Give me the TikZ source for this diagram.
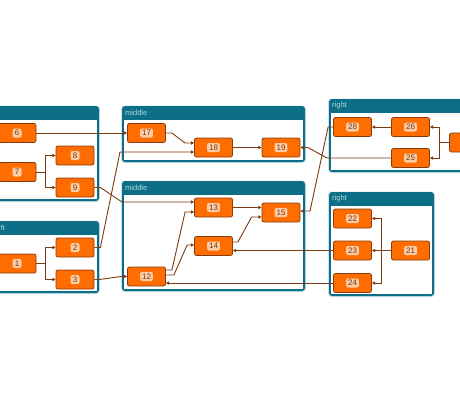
\documentclass[tikz,border=0pt]{standalone}
\usepackage{fontspec}
\setmainfont{Liberation Sans}
\usetikzlibrary{arrows.meta,calc}
\definecolor{grpc}{HTML}{0C6F87}
\definecolor{grptitle}{HTML}{B4D8E2}
\definecolor{shadowc}{HTML}{CFE3EA}
\definecolor{nodefill}{HTML}{FF6D00}
\definecolor{nodeborder}{HTML}{8A3C0E}
\definecolor{lblfill}{HTML}{FFCBA4}
\definecolor{lbltext}{HTML}{6E3A18}
\definecolor{edgec}{HTML}{7A3A12}
\tikzset{
  nodebox/.style={draw=nodeborder, fill=nodefill, rounded corners=2pt,
    minimum width=38pt, minimum height=19pt, inner sep=0pt, line width=0.8pt},
  lblbox/.style={fill=lblfill, text=lbltext, rounded corners=2pt, inner sep=0pt,
    inner xsep=2pt, minimum height=9pt, minimum width=9pt,
    font=\fontsize{8}{8}\selectfont},
  grptitlestyle/.style={text=grptitle, anchor=west, inner sep=0pt,
    font=\fontsize{7.5}{8}\selectfont},
  conn/.style={draw=edgec, line width=0.9pt, -{Triangle[length=3.2pt,width=3.2pt]}},
}
\newcommand\nd[3]{\node[nodebox] (n#1) at (#2,#3) {}; \node[lblbox] (l#1) at (n#1) {#1};}
\newcommand\grp[6]{%
  \fill[shadowc, rounded corners=3.5pt] ({#2-0.8},{#3-0.5}) rectangle ({#4+0.8},{#5+1.2});
  \fill[grpc, rounded corners=3pt] (#2,#3) rectangle (#4,#5);
  \fill[white] ({#2+2},{#3+14}) rectangle ({#4-2},{#5-2});
  \node[grptitlestyle] (t#1) at ({#2+3},{#3+7}) {#6};}
\begin{document}
\begin{tikzpicture}[x=1pt,y=-1pt]
\useasboundingbox (0,0) rectangle (460,400);
\fill[white] (0,0) rectangle (460,400);
\clip (0,0) rectangle (460,400);
% groups
\grp{lt}{-20}{106}{99}{201}{}
\grp{lb}{-8.5}{221}{99}{293}{left}
\grp{mt}{122}{106}{305}{162}{middle}
\grp{mb}{122}{181}{305}{291}{middle}
\grp{rt}{329}{99}{520}{172}{right}
\grp{rb}{329}{192}{434}{296}{right}
% nodes
\nd{6}{17}{133}
\nd{7}{17}{172}
\nd{8}{75}{155.5}
\nd{9}{75}{187.5}
\nd{1}{17}{263.5}
\nd{2}{75}{247.5}
\nd{3}{75}{279.5}
\nd{17}{146.5}{133}
\nd{18}{213.5}{147.5}
\nd{19}{281}{147.5}
\nd{13}{213.5}{207.5}
\nd{15}{281}{212.5}
\nd{14}{213.5}{246}
\nd{12}{146.5}{276.5}
\nd{28}{352.5}{127}
\nd{26}{410.5}{127}
\nd{25}{410.5}{158}
\node[nodebox] (n27) at (468.5,142.5) {};
\nd{22}{352.5}{218.5}
\nd{23}{352.5}{250.5}
\nd{24}{352.5}{283}
\nd{21}{410.5}{250.5}
% connectors
\draw[conn] (n6.east) -- (n17.west);
\draw[conn] (n7.east) -- ++(9,0) |- (n8.west);
\draw[conn] (n7.east) -- ++(9,0) |- (n9.west);
\draw[conn] (n1.east) -- ++(9,0) |- (n2.west);
\draw[conn] (n1.east) -- ++(9,0) |- (n3.west);
\draw[conn] (n9.east) -- ++(6,0) -- (122,202) -- ([yshift=5.5pt]n13.west);
\draw[conn] (n2.east) -- ++(6,0) -- (120,152) -- ([yshift=-4.5pt]n18.west);
\draw[conn] (n3.east) -- ++(5,0) -- ([xshift=-6pt]n12.west) -- (n12.west);
\draw[conn] (n17.east) -- ++(6,0) -- ([xshift=-9pt,yshift=4.5pt]n18.west) -- ([yshift=4.5pt]n18.west);
\draw[conn] (n18.east) -- (n19.west);
\draw[conn] ([yshift=6.5pt]n12.east) -- ++(6,0) -- ([xshift=-9pt,yshift=-4.5pt]n13.west) -- ([yshift=-4.5pt]n13.west);
\draw[conn] ([yshift=1.5pt]n12.east) -- ++(8,0) -- ([xshift=-7pt,yshift=1pt]n14.west) -- ([yshift=1pt]n14.west);
\draw[conn] (n13.east) -- (n13.east -| n15.west);
\draw[conn] ([yshift=4pt]n14.east) -- ++(5,0) -- ([xshift=-10pt,yshift=-4.5pt]n15.west) -- ([yshift=-4.5pt]n15.west);
\draw[conn] (n23.west) -- (n23.west -| n14.east);
\draw[conn] (n24.west) -- (n24.west -| n12.east);
\draw[conn] (n21.west) -- ++(-10,0) |- (n22.east);
\draw[conn] (n21.west) -- (n23.east);
\draw[conn] (n21.west) -- ++(-10,0) |- (n24.east);
\draw[conn] (n27.west) -- ++(-10,0) |- (n26.east);
\draw[conn] (n27.west) -- ++(-10,0) |- (n25.east);
\draw[conn] (n26.west) -- (n28.east);
\draw[conn] (n25.west) -- (327,158) -- (308,147.5) -- (n19.east);
\draw[conn] (n28.west) -- ++(-5,0) -- (310,211) -- ([yshift=1.5pt]n15.east);
\end{tikzpicture}
\end{document}
